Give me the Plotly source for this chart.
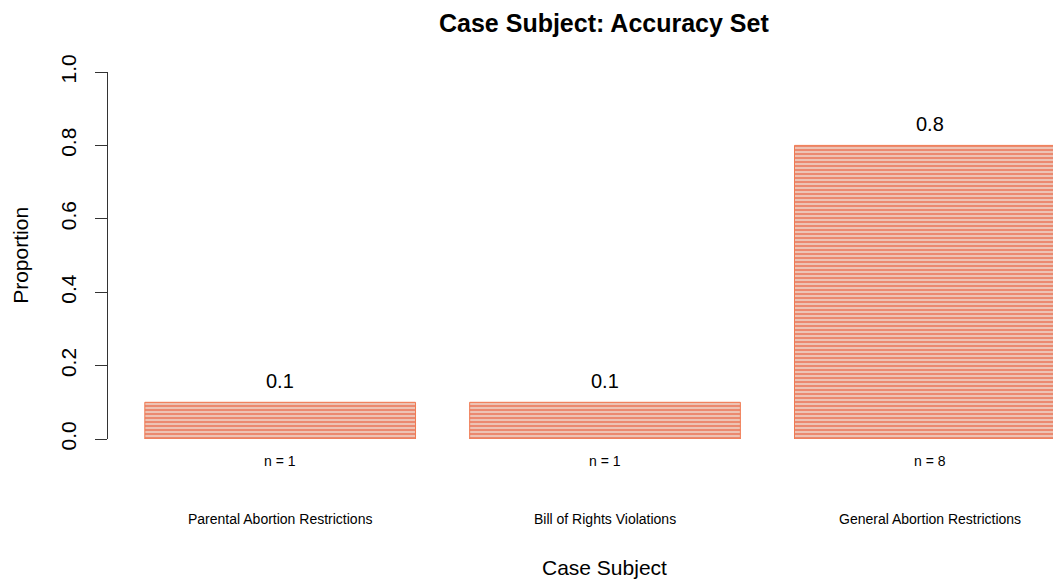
import plotly.graph_objects as go

categories = ["Parental Abortion Restrictions", "Bill of Rights Violations", "General Abortion Restrictions"]
proportions = [0.1, 0.1, 0.8]
counts = [1, 1, 8]
yticks = [0.0, 0.2, 0.4, 0.6, 0.8, 1.0]

# R barplot geometry: width 1, space 0.2
xpos = [0.7 + 1.2 * i for i in range(len(categories))]

FONT = "Liberation Sans, Arial, Helvetica, sans-serif"

fig = go.Figure()
fig.add_trace(go.Bar(
    x=xpos, y=proportions, width=[1.0] * len(xpos),
    marker=dict(
        color="#EE8A6C",
        line=dict(color="#F07A52", width=1),
        pattern=dict(shape="-", size=4, solidity=0.55, fgcolor="#E94A22", bgcolor="#EDC9BC"),
    ),
    hoverinfo="skip",
    cliponaxis=False,
))

ann = []
for x, p, n, c in zip(xpos, proportions, counts, categories):
    ann.append(dict(x=x, y=p, xref="x", yref="y", text=f"{p:.1f}", showarrow=False,
                    yanchor="bottom", yshift=8, font=dict(size=20, color="black", family=FONT)))
    ann.append(dict(x=x, y=0, xref="x", yref="y", text=f"n = {n}", showarrow=False,
                    yanchor="middle", yshift=-22, font=dict(size=14, color="black", family=FONT)))
    ann.append(dict(x=x, y=0, xref="x", yref="y", text=c, showarrow=False,
                    yanchor="middle", yshift=-80, font=dict(size=14, color="black", family=FONT)))

# axis titles
ann.append(dict(x=0.5205, y=0, xref="paper", yref="y", text="Case Subject", showarrow=False,
                yanchor="middle", yshift=-128, font=dict(size=21, color="black", family=FONT)))
ann.append(dict(x=-0.092, y=0.5, xref="paper", yref="paper", text="Proportion", showarrow=False,
                textangle=-90, xanchor="center", yanchor="middle",
                font=dict(size=21, color="black", family=FONT)))
# title
ann.append(dict(x=0.5205, y=1, xref="paper", yref="paper", text="<b>Case Subject: Accuracy Set</b>",
                showarrow=False, yanchor="middle", yshift=49,
                font=dict(size=25, color="black", family=FONT)))

fig.update_layout(
    width=1061, height=584,
    margin=dict(l=100, r=8, t=64, b=153),
    paper_bgcolor="white", plot_bgcolor="white",
    showlegend=False,
    annotations=ann,
    font=dict(family=FONT, color="black"),
    xaxis=dict(range=[0.064, 0.064 + 953 / 270.7], visible=False, showgrid=False, zeroline=False),
    yaxis=dict(range=[0, 1], tickvals=yticks, ticktext=[f"{v:.1f}" for v in yticks],
               tickangle=-90, ticks="outside", ticklen=12, tickcolor="#333", tickwidth=1,
               showline=True, linecolor="#333", linewidth=1, showgrid=False, zeroline=False,
               tickfont=dict(size=21, color="black", family=FONT), ticklabelstandoff=11),
)

fig.write_html("out.html")
